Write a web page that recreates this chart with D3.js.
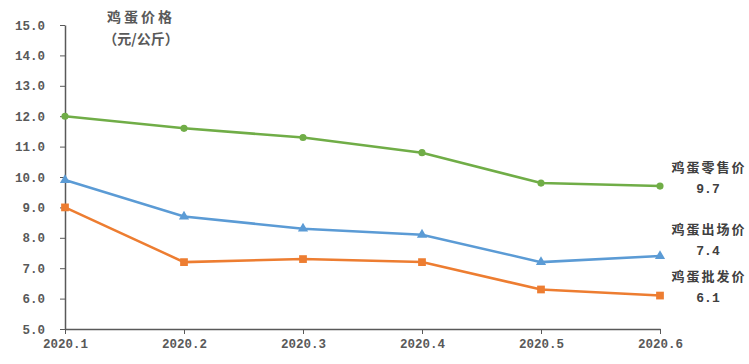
<!DOCTYPE html>
<html><head><meta charset="utf-8">
<script src="https://cdn.jsdelivr.net/npm/d3@7"></script>
<style>body{margin:0;background:#fff}</style>
</head><body><svg id="c" width="749" height="364"></svg>
<script>
const categories = ["2020.1","2020.2","2020.3","2020.4","2020.5","2020.6"];
const retail = [12.0, 11.6, 11.3, 10.8, 9.8, 9.7];
const farmGate = [9.9, 8.7, 8.3, 8.1, 7.2, 7.4];
const wholesale = [9.0, 7.2, 7.3, 7.2, 6.3, 6.1];
const yTicks = [5,6,7,8,9,10,11,12,13,14,15];
const seriesNames = ["鸡蛋零售价","鸡蛋出场价","鸡蛋批发价"];

const svg = d3.select("#c");
const x = d3.scalePoint().domain(categories).range([65, 660]);
const y = d3.scaleLinear().domain([5, 15]).range([329, 25]);
const txt = "#595959";
const font = "'Noto Sans CJK SC', sans-serif";
const numFont = "'Liberation Mono', monospace";

const yAxis = svg.append("g").attr("transform","translate(65,0)")
  .call(d3.axisLeft(y).tickValues(yTicks).tickSize(5).tickSizeOuter(0).tickFormat(d3.format(".1f")));
yAxis.select(".domain").attr("stroke","#595959").attr("stroke-width",1.5);
yAxis.selectAll(".tick line").attr("stroke","#595959");
yAxis.selectAll("text").attr("fill",txt).attr("font-family",numFont).attr("font-weight","bold").attr("font-size",12.5).attr("x",-20);

const xAxis = svg.append("g").attr("transform","translate(0,329)")
  .call(d3.axisBottom(x).tickSize(5).tickSizeOuter(0));
xAxis.select(".domain").attr("stroke","#595959").attr("stroke-width",1.5);
xAxis.selectAll(".tick line").attr("stroke","#595959");
xAxis.selectAll("text").attr("fill",txt).attr("font-family",numFont).attr("font-weight","bold").attr("font-size",12.5).attr("dy","0.9em");

const series = [
  {vals: retail, color: "#70AD47", shape: d3.symbolCircle, size: 40},
  {vals: farmGate, color: "#5B9BD5", shape: d3.symbolTriangle, size: 45},
  {vals: wholesale, color: "#ED7D31", shape: d3.symbolSquare, size: 60}
];
const line = d3.line().x((d,i)=>x(categories[i])).y(d=>y(d));
series.forEach(s=>{
  svg.append("path").datum(s.vals).attr("d",line).attr("fill","none")
    .attr("stroke",s.color).attr("stroke-width",2.5);
  svg.selectAll(null).data(s.vals).enter().append("path")
    .attr("d",d3.symbol().type(s.shape).size(s.size))
    .attr("transform",(d,i)=>`translate(${x(categories[i])},${y(d)})`)
    .attr("fill",s.color);
});

svg.append("text").attr("x",141).attr("y",22).attr("text-anchor","middle")
  .attr("font-family",font).attr("font-weight","bold").attr("font-size",14).attr("letter-spacing",3).attr("fill",txt).text("鸡蛋价格");
svg.append("text").attr("x",141).attr("y",44).attr("text-anchor","middle")
  .attr("font-family",font).attr("font-weight","bold").attr("font-size",14).attr("fill",txt).text("（元/公斤）");

const lastVals = [retail[5], farmGate[5], wholesale[5]];
const labelY = [167, 229, 276];
seriesNames.forEach((n,i)=>{
  svg.append("text").attr("x",709).attr("y",labelY[i]+5).attr("text-anchor","middle")
    .attr("font-family",font).attr("font-weight","bold").attr("font-size",13).attr("letter-spacing",2).attr("fill","#404040").text(n);
  svg.append("text").attr("x",708).attr("y",labelY[i]+26).attr("text-anchor","middle")
    .attr("font-family",numFont).attr("font-weight","bold").attr("font-size",13).attr("fill","#404040").text(d3.format(".1f")(lastVals[i]));
});
</script></body></html>
